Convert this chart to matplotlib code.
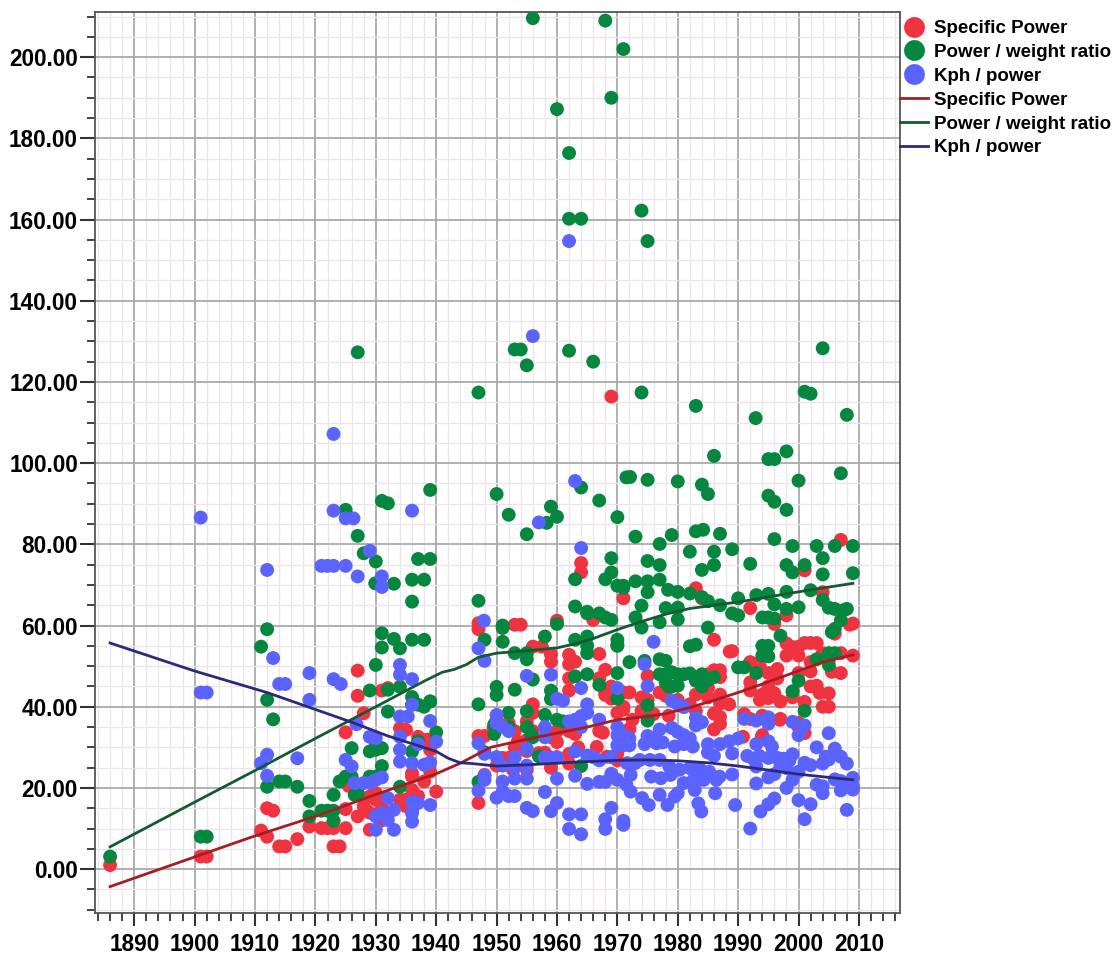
import matplotlib
matplotlib.use("Agg")
import matplotlib.pyplot as plt
from matplotlib.lines import Line2D
from matplotlib.ticker import MultipleLocator, FormatStrFormatter

# ---------------- data ----------------
red_year = [1886, 1901, 1902, 1911, 1912, 1912, 1913, 1914, 1915, 1917, 1919,
            1921, 1922, 1923, 1923, 1924, 1925, 1925, 1927, 1929, 1929, 1930, 1931, 1931, 1928, 1929, 1930, 1931,
            1925.5, 1925, 1927, 1927, 1928, 1930, 1931, 1932, 1934, 1935, 1936, 1936, 1934, 1935, 1937, 1938.5,
            1939, 1939, 1940, 1936, 1938, 1935, 1936, 1937,
            1947, 1947, 1947, 1948, 1947, 1948, 1949.5, 1950, 1951, 1952, 1952.7, 1955, 1950,
            1953, 1954, 1956, 1957.5, 1959, 1960, 1962, 1963, 1967, 1959, 1962, 1962, 1968, 1968, 1969, 1971,
            1962, 1956, 1956, 1970, 1971, 1952, 1955, 1956, 1953, 1953.5, 1959, 1960, 1960, 1962, 1963, 1967,
            1967.6, 1953, 1955, 1955, 1957, 1958, 1959, 1959, 1960, 1962, 1962, 1963.5, 1966.6, 1968.3, 1970,
            1964, 1964, 1971, 1966, 1969, 1967, 1969, 1968,
            1971, 1972, 1972.5, 1972, 1970, 1974, 1974, 1975, 1975, 1976, 1977, 1977.6, 1978, 1978.5, 1980,
            1982, 1983, 1983, 1983, 1984, 1985, 1985, 1985, 1986, 1986, 1986, 1986, 1987, 1987, 1987, 1987,
            1987, 1987, 1988.5, 1988.6, 1989, 1983.6,
            1990.8, 1991, 1992, 1992, 1992, 1992, 1992, 1993, 1993.6, 1993.6, 1993.9, 1994, 1994, 1994, 1995,
            1995, 1995, 1995, 1996, 1996.5, 1996.5, 1996, 1997, 1997, 1996.9, 1998, 1998, 1998, 1999, 1999,
            2000, 2000, 2000, 2000, 2000, 2001, 2001, 2001, 2001, 2002, 2002, 2002, 2002, 2003, 2003, 2003.5,
            2004, 2004, 2004, 2005, 2005, 2005, 2005.5, 2006, 2007, 2007, 2007, 2008.5, 2009, 2009]
red_val = [1.0, 3.1, 3.1, 9.5, 8.0, 15.0, 14.4, 5.6, 5.6, 7.4, 10.5,
           10.1, 10.1, 10.1, 5.6, 5.6, 10.1, 14.8, 13.0, 9.7, 13.9, 17.1, 12.0, 15.0, 15.5, 17.9, 18.7, 17.1,
           20.5, 33.7, 48.9, 42.7, 38.4, 31.0, 44.0, 44.6, 34.7, 34.3, 23.6, 19.5, 17.1, 17.1, 32.6, 31.9,
           29.4, 24.0, 19.1, 22.8, 21.6, 15.5, 14.4, 18.0,
           59.1, 60.6, 32.8, 32.8, 16.3, 23.2, 34.8, 36.8, 27.4, 27.4, 24.5, 24.5, 25.5,
           60.2, 60.2, 54.8, 54.8, 52.9, 61.2, 52.8, 51.1, 53.0, 51.1, 50.5, 47.0, 49.1, 43.5, 42.0, 43.5,
           44.0, 40.6, 38.5, 38.5, 39.3, 36.0, 36.4, 34.0, 34.0, 31.4, 32.5, 31.3, 34.0, 34.0, 33.3, 34.0,
           33.6, 30.0, 29.1, 31.8, 28.6, 28.7, 26.3, 25.0, 27.6, 28.4, 26.0, 30.0, 30.1, 27.7, 26.8,
           75.4, 73.1, 66.7, 61.4, 116.4, 47.0, 45.0, 42.9,
           40.0, 43.5, 36.8, 34.5, 28.5, 42.3, 39.0, 47.6, 41.7, 38.2, 43.5, 43.4, 42.7, 37.8, 41.7,
           40.6, 39.0, 43.0, 69.2, 66.7, 42.3, 48.0, 44.7, 56.5, 38.3, 34.4, 49.0, 37.5, 43.0, 47.3, 40.8,
           35.8, 49.0, 40.6, 53.6, 53.7, 22.0,
           32.6, 38.2, 44.0, 37.0, 64.3, 51.0, 46.0, 50.5, 49.9, 41.7, 32.6, 43.0, 37.8, 33.0, 44.3,
           48.3, 45.0, 42.1, 43.3, 49.3, 47.0, 60.4, 41.3, 37.0, 36.8, 55.6, 52.6, 62.5, 42.3, 54.7,
           54.8, 52.6, 48.3, 35.0, 36.0, 41.2, 33.5, 73.6, 55.7, 55.7, 51.0, 48.7, 45.0, 55.7, 45.2, 43.4,
           68.2, 53.2, 40.0, 43.3, 40.0, 51.5, 48.6, 58.0, 48.3, 81.1, 53.2, 60.2, 52.6, 60.5]

green_year = [1886, 1901, 1902,
              1911, 1912, 1912, 1913, 1912, 1914, 1915, 1917, 1919, 1919, 1921, 1922, 1923, 1923, 1924, 1925,
              1926, 1927, 1929, 1930, 1934, 1923, 1926.5,
              1925, 1927, 1928, 1930, 1929.9, 1933, 1937, 1939, 1939, 1931, 1932, 1936, 1938, 1936, 1927,
              1931, 1933, 1934, 1931, 1936, 1938, 1930, 1929, 1932, 1934, 1936, 1938, 1939, 1932, 1940, 1936,
              1937, 1929, 1930, 1931, 1926, 1931, 1936, 1937, 1937, 1939,
              1947, 1947, 1948, 1947, 1948, 1947,
              1950, 1952, 1955, 1953, 1954, 1955, 1956, 1956, 1959, 1960, 1958.3, 1960, 1962, 1962, 1964, 1962,
              1964, 1966, 1967, 1968, 1969, 1970, 1971, 1971.5, 1974, 1975, 1974,
              1963, 1969, 1969, 1968, 1970, 1971, 1963, 1965, 1968, 1969, 1951, 1960, 1958, 1951, 1963, 1965,
              1970, 1970, 1953, 1955, 1955, 1965, 1963, 1965, 1970, 1967, 1950, 1950, 1953, 1959, 1959, 1970,
              1952, 1955, 1958, 1960, 1961, 1950, 1955, 1956, 1957, 1964, 1951, 1965, 1965, 1967, 1952, 1949.6,
              1949.6, 1955.7,
              1983, 1992.9, 1986, 1995, 1972.1, 1975, 1980, 1984, 1985, 1995, 1973, 1979, 1983, 1984.2, 1987,
              1977, 1982, 1986, 1986, 1989, 1992, 1975, 1977, 1984, 1973, 1975, 1977, 1971, 1974, 1975, 1978.4,
              1980, 1982, 1984, 1985, 1978, 1980, 1977, 1980, 1973, 1974, 1987, 1990, 1993, 1989, 1990, 1994,
              1985, 1970, 1982, 1983, 1994, 1994, 1972, 1974.5, 1977, 1978, 1990, 1991, 1977, 1978, 1979, 1980,
              1981, 1982, 1984, 1993, 1978, 1979, 1980, 1983, 1984, 1975, 1975, 1986, 1985, 1978.5,
              2001, 2002, 2004, 2008, 1998, 1996, 2007, 2000, 1996, 1998, 1996, 1999, 2003, 2006, 2009, 2004,
              1998, 1999, 2001, 2004, 2009, 1995, 1998, 2002, 1996, 1998, 2000, 2004, 2005, 2006, 2008, 1995,
              1996, 2007, 2006, 2005.5, 1997, 1995, 1995, 2003, 2005, 2005, 2006, 2000, 1999, 2001, 2007.5]
green_val = [3.1, 8.0, 8.0,
             54.8, 59.1, 41.7, 36.9, 20.3, 21.6, 21.6, 20.3, 16.8, 13.0, 14.4, 14.4, 14.4, 11.9, 21.6, 22.8,
             22.8, 18.7, 22.8, 22.8, 20.3, 18.3, 18.3,
             88.5, 82.1, 77.8, 75.8, 70.4, 70.3, 76.4, 76.4, 93.4, 90.7, 90.1, 71.3, 71.3, 65.9, 127.3,
             58.1, 56.7, 54.4, 54.6, 56.5, 56.5, 50.3, 44.0, 44.2, 44.9, 42.4, 40.0, 41.3, 38.8, 33.7, 40.5,
             40.5, 29.0, 29.4, 29.8, 29.8, 25.4, 29.0, 31.5, 31.0, 41.3,
             117.4, 66.1, 56.5, 40.6, 28.8, 21.5,
             92.4, 87.3, 82.5, 128.0, 128.0, 124.1, 209.6, 46.7, 89.3, 86.8, 85.3, 187.2, 176.4, 160.2, 160.2, 127.7,
             94.0, 125.0, 90.8, 209.0, 190.0, 86.7, 202.0, 96.5, 162.2, 154.7, 117.4,
             71.4, 76.6, 73.1, 71.4, 69.8, 69.3, 64.7, 63.4, 62.0, 61.4, 59.4, 60.4, 57.3, 56.0, 56.5, 57.3,
             56.5, 55.0, 53.2, 53.2, 51.7, 53.2, 47.5, 48.0, 48.3, 45.4, 44.9, 42.9, 44.2, 44.0, 41.9, 42.0,
             38.5, 38.9, 38.0, 36.8, 36.4, 35.5, 35.0, 32.5, 27.8, 25.4, 60.0, 63.0, 55.0, 63.0, 35.0, 35.6,
             33.3, 33.3,
             114.1, 111.1, 101.8, 101.0, 96.6, 95.9, 95.5, 94.7, 92.4, 92.0, 81.9, 82.3, 83.2, 83.6, 82.6,
             80.1, 78.2, 78.2, 74.9, 78.8, 75.2, 75.9, 74.9, 73.7, 70.9, 70.9, 71.3, 69.8, 64.9, 68.2, 68.8,
             68.3, 67.9, 67.0, 66.0, 64.3, 64.4, 60.8, 61.5, 62.0, 59.5, 65.0, 66.7, 67.5, 63.0, 62.5, 62.0,
             59.5, 55.3, 54.9, 55.3, 55.0, 52.6, 51.0, 51.3, 51.7, 51.3, 49.7, 49.7, 48.0, 48.0, 48.5, 48.0,
             48.0, 48.2, 48.0, 48.3, 46.0, 45.0, 45.2, 46.4, 45.0, 40.4, 36.6, 47.3, 46.6, 45.0,
             117.6, 117.1, 128.3, 111.9, 102.9, 101.0, 97.5, 95.7, 90.5, 88.5, 81.3, 79.6, 79.6, 79.6, 79.6, 76.6,
             74.9, 73.1, 74.9, 72.6, 72.9, 67.8, 68.3, 68.7, 65.2, 64.1, 64.5, 66.3, 64.4, 64.1, 64.1, 62.0,
             61.7, 61.3, 59.2, 58.4, 57.5, 55.0, 52.4, 51.7, 53.2, 50.3, 53.2, 46.4, 43.8, 39.0, 63.8]

blue_year = [1901, 1901, 1902,
             1912, 1913, 1914, 1915, 1919, 1919, 1912, 1911, 1917, 1912,
             1921, 1922, 1923, 1925, 1923, 1925, 1926.3, 1927, 1929, 1931, 1931, 1936, 1923, 1923, 1924.2, 1934,
             1934, 1936, 1936, 1934, 1935.3, 1939, 1926.8, 1929, 1930, 1934, 1940, 1934, 1934, 1925, 1926, 1936,
             1938, 1926.5, 1928, 1929, 1930, 1931, 1932, 1933, 1936, 1937, 1939, 1936, 1936, 1930, 1933, 1930,
             1932, 1937, 1939, 1931,
             1947.9, 1947, 1948, 1947, 1948, 1947,
             1962, 1956, 1963, 1957, 1964, 1959, 1955, 1960, 1961, 1964, 1965, 1970, 1950, 1964, 1963, 1965,
             1967, 1951, 1952, 1950, 1958, 1958, 1962, 1964, 1970, 1970, 1971, 1955, 1953, 1950, 1948, 1960,
             1959, 1958, 1963, 1965, 1966, 1967, 1969, 1951, 1953, 1955, 1955, 1953, 1948, 1951, 1951, 1960,
             1963, 1965, 1967, 1968, 1969, 1970, 1971.5, 1950, 1952, 1953, 1958, 1955, 1956, 1959, 1960, 1962,
             1964, 1962, 1964, 1968, 1968, 1969, 1971,
             1976, 1974.5, 1975, 1979, 1980, 1981, 1983, 1984, 1983, 1991, 1993, 1995, 1970, 1971, 1972, 1975,
             1976, 1977, 1979, 1980, 1981, 1982, 1972, 1974.5, 1976.5, 1977.5, 1979.5, 1981, 1982.5, 1985, 1987,
             1988.5, 1990, 1993, 1995, 1985, 1986, 1989, 1991.5, 1992.5, 1993.5, 1971.6, 1972.9, 1973.7, 1975.4,
             1977, 1978.6, 1980.3, 1982, 1983.6, 1985.2, 1986.9, 1972.2, 1975.6, 1977.2, 1978.8, 1981, 1982.6,
             1984.3, 1986.4, 1986.2, 1989, 1993, 1993, 1972.2, 1974.1, 1975.2, 1977, 1979.5, 1980, 1982.8,
             1983.4, 1983.9, 1978.3, 1989.5, 1993.7, 1971, 1992,
             1995, 1995.6, 1995, 1996.5, 1997.5, 1998.5, 1999, 1999, 2001, 2000, 2005, 2003, 2006, 2007, 2004.5,
             2008, 2001, 2002, 2004, 2005, 1997, 1998, 2000, 2003, 2004, 2006, 2007, 2009, 2009, 1995, 1996,
             1998, 1999, 2004, 2007, 1995, 1996, 2000, 2002, 2001, 2008, 2009]
blue_val = [86.6, 43.5, 43.5,
            73.7, 52.0, 45.6, 45.6, 48.3, 41.7, 28.2, 26.1, 27.3, 23.0,
            74.7, 74.7, 74.7, 74.7, 88.3, 86.4, 86.4, 72.1, 78.4, 72.1, 69.5, 88.3, 107.2, 46.8, 45.6, 50.3,
            47.9, 46.8, 40.5, 37.6, 37.6, 36.5, 35.7, 32.6, 32.3, 32.6, 31.4, 29.4, 26.5, 26.9, 25.3, 26.1,
            25.7, 21.2, 21.2, 21.2, 22.0, 22.6, 17.5, 14.6, 16.6, 16.3, 15.8, 13.8, 11.7, 9.7, 9.7, 13.0,
            12.1, 30.8, 26.3, 13.8,
            61.2, 54.4, 51.3, 31.0, 22.0, 19.3,
            154.7, 131.3, 95.6, 85.4, 79.1, 47.9, 47.6, 42.0, 41.5, 44.6, 40.6, 44.6, 38.0, 37.7, 36.8, 38.5,
            36.8, 35.0, 34.0, 36.0, 35.0, 32.5, 36.4, 35.0, 33.0, 30.5, 30.5, 29.6, 27.6, 27.6, 28.4, 27.5,
            27.5, 27.5, 29.0, 28.0, 27.6, 26.8, 27.6, 25.5, 25.0, 25.5, 22.3, 22.3, 23.0, 21.6, 19.1, 22.3,
            23.0, 21.0, 21.5, 21.5, 23.5, 22.0, 20.8, 17.6, 18.0, 18.0, 19.0, 15.1, 14.3, 14.3, 16.3, 13.5,
            13.5, 9.9, 8.6, 12.3, 9.9, 15.1, 11.9,
            56.0, 50.5, 45.1, 41.5, 40.6, 39.9, 37.3, 36.2, 35.4, 37.0, 36.6, 37.4, 35.0, 33.0, 32.2, 32.8,
            32.2, 34.4, 34.8, 33.8, 33.0, 32.2, 30.5, 30.8, 31.0, 31.2, 30.2, 30.8, 30.2, 30.8, 30.8,
            31.5, 32.2, 30.8, 31.5, 28.7, 27.9, 28.5, 27.9, 27.2, 27.9, 26.1, 26.1, 26.9, 26.9,
            26.9, 25.3, 24.5, 24.9, 24.9, 24.0, 22.8, 23.2, 22.8, 22.4, 23.2, 21.2, 22.0,
            22.0, 22.0, 18.7, 23.3, 25.3, 21.1, 19.1, 17.5, 15.8, 18.3, 17.9, 18.7, 19.5,
            16.2, 14.2, 15.8, 15.8, 14.2, 10.9, 10.0,
            35.8, 30.2, 27.4, 27.4, 27.2, 26.8, 28.3, 36.3, 35.4, 33.0, 33.5, 30.0, 29.7, 27.7, 27.7,
            26.0, 26.2, 25.6, 26.0, 27.0, 25.3, 24.9, 24.0, 20.8, 20.4, 22.1, 21.7, 22.5, 20.4, 22.6, 23.4,
            20.0, 22.0, 18.7, 19.4, 16.0, 17.4, 17.0, 16.0, 12.3, 14.6, 19.6]

# smoothed fit lines
red_fit_year = [1886, 1900, 1910, 1920, 1930, 1940, 1944, 1949, 1955, 1960, 1965, 1970, 1975, 1978,
                1982, 1986, 1990, 1994, 1999, 2004, 2009]
red_fit_val = [-4.3, 3.0, 8.2, 13.0, 18.4, 23.5, 26.1, 30.0, 32.0, 33.5, 35.0, 36.8, 37.6, 38.3,
               39.8, 41.6, 43.5, 45.6, 48.3, 51.0, 52.8]
green_fit_year = [1886, 1900, 1910, 1920, 1930, 1938, 1941, 1943, 1945, 1947, 1950, 1955, 1960, 1963,
                  1966, 1970, 1974, 1978, 1982, 1986, 1990, 1994, 1998, 2002, 2006, 2009]
green_fit_val = [5.5, 16.5, 24.3, 32.2, 40.0, 46.3, 48.5, 49.2, 50.4, 52.2, 53.2, 53.8, 54.5, 55.5,
                 56.8, 59.0, 61.0, 62.8, 64.2, 65.0, 65.8, 66.8, 67.8, 68.8, 69.7, 70.4]
blue_fit_year = [1886, 1900, 1912, 1926, 1932, 1940, 1942, 1944, 1946, 1950, 1955, 1960, 1965, 1970,
                 1975, 1980, 1985, 1990, 1995, 2000, 2005, 2009]
blue_fit_val = [55.7, 48.8, 43.5, 36.2, 32.8, 29.0, 27.3, 26.2, 26.0, 25.4, 25.7, 26.1, 26.5, 26.8,
                26.9, 26.7, 26.2, 25.4, 24.4, 23.4, 22.6, 22.0]

series_labels = ["Specific Power", "Power / weight ratio", "Kph / power"]
y_tick_values = [0, 20, 40, 60, 80, 100, 120, 140, 160, 180, 200]
x_tick_values = [1890, 1900, 1910, 1920, 1930, 1940, 1950, 1960, 1970, 1980, 1990, 2000, 2010]

# ---------------- style ----------------
RED, GREEN, BLUE = "#EF3340", "#05873F", "#5A62FF"
RED_L, GREEN_L, BLUE_L = "#A81C24", "#145A30", "#2B2A78"
FONT = "Liberation Sans"

W, H = 1119, 956
fig = plt.figure(figsize=(W / 100, H / 100), dpi=100)
ax = fig.add_axes([95 / W, 1 - 913 / H, (900 - 95) / W, (913 - 11.7) / H])

ax.set_xlim(1883.5, 2016.8)
ax.set_ylim(-10.8, 211.2)

ax.xaxis.set_major_locator(MultipleLocator(10))
ax.xaxis.set_minor_locator(MultipleLocator(2))
ax.yaxis.set_major_locator(MultipleLocator(20))
ax.yaxis.set_minor_locator(MultipleLocator(5))
ax.set_xticks(x_tick_values)
ax.set_yticks(y_tick_values)
ax.yaxis.set_major_formatter(FormatStrFormatter("%.2f"))

ax.grid(which="minor", color="#EDE4E9", linewidth=0.9, zorder=0)
ax.grid(which="major", color="#AAAAAA", linewidth=1.3, zorder=0)
ax.set_axisbelow(True)

for s in ax.spines.values():
    s.set_color("#555555")
    s.set_linewidth(1.3)

ax.tick_params(axis="y", which="major", length=10.8, width=1.5, color="#333333", pad=1.5)
ax.tick_params(axis="x", which="major", length=9.4, width=1.5, color="#333333", pad=5)
ax.tick_params(which="minor", length=5.8, width=1.3, color="#333333")
for lab in ax.get_xticklabels() + ax.get_yticklabels():
    lab.set_fontfamily(FONT)
    lab.set_fontweight("bold")
    lab.set_fontsize(16.3)

ms = 100
ax.scatter(red_year, red_val, s=ms, color=RED, edgecolors="none", zorder=3)
ax.scatter(green_year, green_val, s=ms, color=GREEN, edgecolors="none", zorder=3)
ax.scatter(blue_year, blue_val, s=ms, color=BLUE, edgecolors="none", zorder=3)

ax.plot(red_fit_year, red_fit_val, color=RED_L, lw=2.0, zorder=4)
ax.plot(green_fit_year, green_fit_val, color=GREEN_L, lw=2.0, zorder=4)
ax.plot(blue_fit_year, blue_fit_val, color=BLUE_L, lw=2.0, zorder=4)

handles = [Line2D([], [], ls="", marker="o", markersize=15, color=c, markeredgewidth=0)
           for c in (RED, GREEN, BLUE)]
handles += [Line2D([], [], color=c, lw=2.0) for c in (RED_L, GREEN_L, BLUE_L)]
labels = series_labels + series_labels
fig.legend(handles, labels, loc="upper left", bbox_to_anchor=(900 / W, 1 - 20 / H),
           frameon=False, prop={"family": FONT, "weight": "bold", "size": 13.5},
           handlelength=1.5, handletextpad=0.3, labelspacing=0.36, borderaxespad=0,
           borderpad=0)

fig.savefig("out.png", dpi=100)
